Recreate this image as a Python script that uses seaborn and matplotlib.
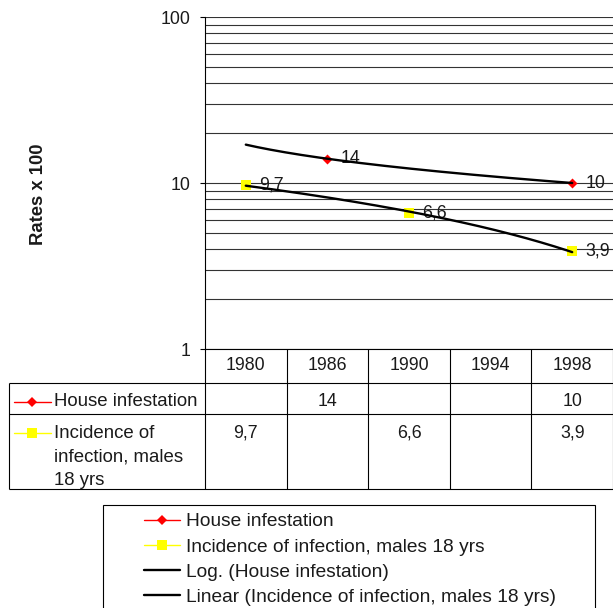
import numpy as np
import pandas as pd
import seaborn as sns
import matplotlib
matplotlib.use("Agg")
import matplotlib.pyplot as plt
import matplotlib.transforms as mtransforms
from matplotlib.lines import Line2D
from matplotlib.patches import Rectangle
from matplotlib.ticker import LogLocator, NullFormatter, FixedLocator

# ---------------- data ----------------
years = ["1980", "1986", "1990", "1994", "1998"]
house = [np.nan, 14, np.nan, np.nan, 10]
incidence = [9.7, np.nan, 6.6, np.nan, 3.9]
house_labels = ["", "14", "", "", "10"]
incidence_labels = ["9,7", "", "6,6", "", "3,9"]
series_names = ["House infestation", "Incidence of infection, males 18 yrs"]
row_headers = ["House infestation", "Incidence of\ninfection, males\n18 yrs"]
trend_names = ["Log. (House infestation)", "Linear (Incidence of infection, males 18 yrs)"]
y_ticks = [1, 10, 100]
y_tick_labels = ["1", "10", "100"]
y_title = "Rates x 100"

# ---------------- style ----------------
sns.set_theme(style="white")
plt.rcParams["font.family"] = ["Liberation Sans", "DejaVu Sans"]
FS = 12.8      # numbers
FST = 13.4     # words (table row headers)
FSL = 13.8     # legend
TXT = "#1a1a1a"

W, H = 613, 608
fig = plt.figure(figsize=(W / 100, H / 100), dpi=100)


def fy(y):
    return 1 - y / H


ax = fig.add_axes([205 / W, 1 - 349 / H, (613 - 205) / W, (349 - 17) / H])

idx = np.arange(len(years))
df = pd.DataFrame({"x": idx, "house": house, "incidence": incidence})

# trend lines (fitted from the series, like the spreadsheet trendlines)
xs = np.linspace(0, len(years) - 1, 200)
hm = ~np.isnan(df["house"].values)
a, b = np.polyfit(np.log(idx[hm] + 1), df["house"].values[hm], 1)
log_trend = a * np.log(xs + 1) + b
im = ~np.isnan(df["incidence"].values)
c, d = np.polyfit(idx[im] + 1, df["incidence"].values[im], 1)
lin_trend = c * (xs + 1) + d

sns.scatterplot(data=df, x="x", y="house", marker="D", color="red", s=26,
                linewidth=0, ax=ax, zorder=4, legend=False)
sns.scatterplot(data=df, x="x", y="incidence", marker="s", color="#ffff00", s=46,
                linewidth=0, ax=ax, zorder=4, legend=False)
sns.lineplot(x=xs, y=log_trend, color="black", lw=1.7, ax=ax, zorder=5)
sns.lineplot(x=xs, y=lin_trend, color="black", lw=1.7, ax=ax, zorder=5)

# data labels
for i, (v, t) in enumerate(zip(house, house_labels)):
    if t:
        ax.annotate(t, (i, v), xytext=(9.5, 0), textcoords="offset points",
                    va="center", ha="left", fontsize=FS, color=TXT, zorder=3)
for i, (v, t) in enumerate(zip(incidence, incidence_labels)):
    if t:
        ax.annotate(t, (i, v), xytext=(9.5, 0), textcoords="offset points",
                    va="center", ha="left", fontsize=FS, color=TXT, zorder=3)

# axes / scales
ax.set_yscale("log")
ax.set_ylim(1, 100)
ax.set_xlim(-0.5, len(years) - 0.5)
ax.yaxis.set_major_locator(FixedLocator(y_ticks))
ax.set_yticklabels(y_tick_labels)
ax.yaxis.set_minor_locator(LogLocator(base=10, subs=np.arange(2, 10)))
ax.yaxis.set_minor_formatter(NullFormatter())
ax.grid(False)
ax.yaxis.grid(True, which="both", color="#333333", lw=0.8)
ax.set_axisbelow(True)
ax.tick_params(axis="y", which="major", left=True, length=3.8, width=0.8,
               color="black", pad=6.5, labelsize=FS, labelcolor=TXT, direction="out")
ax.tick_params(axis="y", which="minor", left=False, length=0)
ax.set_xticks(idx)
ax.set_xticklabels(years)
ax.tick_params(axis="x", length=0, pad=6, labelsize=FS, labelcolor=TXT)
ax.set_xlabel("")
ax.set_ylabel(y_title, fontsize=13.3, fontweight="bold", color=TXT)
ax.yaxis.set_label_coords((47 - 205) / 408, (349 - 194) / 332)
for s in ["top", "right"]:
    ax.spines[s].set_visible(False)
for s in ["left", "bottom"]:
    ax.spines[s].set_color("black")
    ax.spines[s].set_linewidth(0.8)

# ---------------- data table ----------------
tr = mtransforms.blended_transform_factory(ax.transData, fig.transFigure)
lc = dict(color="black", lw=0.8, solid_capstyle="butt")
x_left = -0.5 - (205 - 9) / (408 / len(years))
x_right = len(years) - 0.5
for ypix in [383, 414, 489]:
    fig.add_artist(Line2D([x_left, x_right], [fy(ypix), fy(ypix)], transform=tr, **lc))
for xv in np.arange(-0.5, len(years) - 0.4, 1.0):
    fig.add_artist(Line2D([xv, xv], [fy(349), fy(489)], transform=tr, **lc))
fig.add_artist(Line2D([x_left, x_left], [fy(383), fy(489)], transform=tr, **lc))

for i, t in enumerate(house_labels):
    if t:
        fig.text(i, fy(402), t, transform=tr, ha="center", va="center",
                 fontsize=FS, color=TXT)
for i, t in enumerate(incidence_labels):
    if t:
        fig.text(i, fy(433), t, transform=tr, ha="center", va="center",
                 fontsize=FS, color=TXT)

# row header keys
fig.add_artist(Line2D([14 / W, 51 / W], [fy(402), fy(402)], color="red", lw=1))
fig.add_artist(Line2D([32 / W], [fy(402)], color="red", marker="D", ms=5, mew=0))
fig.add_artist(Line2D([14 / W, 51 / W], [fy(433), fy(433)], color="#ffff00", lw=1))
fig.add_artist(Line2D([32 / W], [fy(433)], color="#ffff00", marker="s", ms=6.5, mew=0))
fig.text(54 / W, fy(402), row_headers[0], ha="left", va="center", fontsize=FST, color=TXT)
fig.text(54 / W, fy(425), row_headers[1], ha="left", va="top", fontsize=FST, color=TXT,
         linespacing=1.5)

# ---------------- legend ----------------
handles = [
    Line2D([], [], color="red", marker="D", ms=5, mew=0, lw=1),
    Line2D([], [], color="#ffff00", marker="s", ms=6.5, mew=0, lw=1),
    Line2D([], [], color="black", lw=1.7),
    Line2D([], [], color="black", lw=1.7),
]
leg = fig.legend(handles, series_names + trend_names, loc="upper left",
                 bbox_to_anchor=(144 / W, fy(513)), frameon=False, fontsize=FSL,
                 handlelength=1.9, handletextpad=0.28, labelspacing=0.40,
                 borderpad=0, borderaxespad=0)
for t in leg.get_texts():
    t.set_color(TXT)
fig.add_artist(Rectangle((103 / W, fy(625)), (595 - 103) / W, (625 - 505) / H,
                         transform=fig.transFigure, fill=False, edgecolor="black", lw=0.8))

fig.savefig("out.png", dpi=100)
